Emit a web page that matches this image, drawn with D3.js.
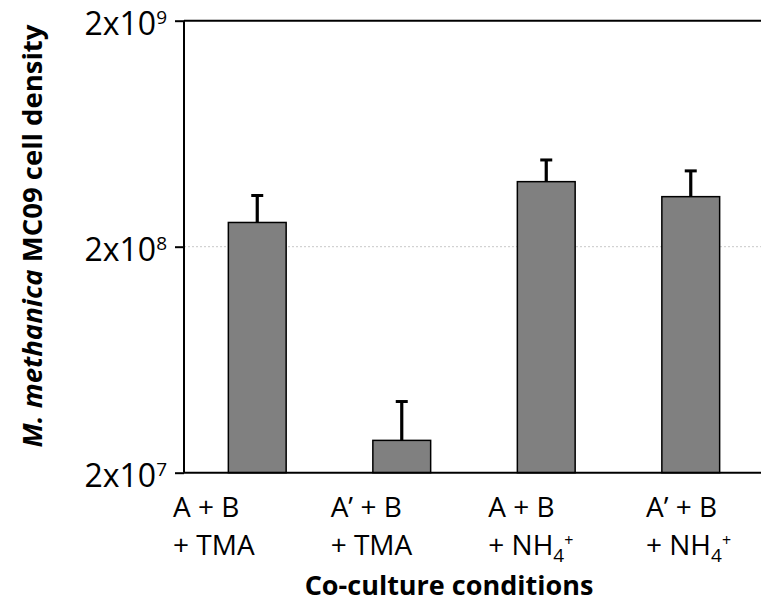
<!DOCTYPE html>
<html>
<head>
<meta charset="utf-8">
<script src="https://cdn.jsdelivr.net/npm/d3@7"></script>
<style>
  body { margin: 0; background: #fff; }
  text { font-family: "Open Sans", sans-serif; fill: #000; }
</style>
</head>
<body>
<svg id="chart" width="761" height="607"></svg>
<script>
// data
var conditions = ["A+B TMA", "A'+B TMA", "A+B NH4", "A'+B NH4"];
var line1 = ["A + B", "A\u2019 + B", "A + B", "A\u2019 + B"];
var line2 = ["TMA", "TMA", "NH4", "NH4"];
var density = [2.56e8, 2.78e7, 3.88e8, 3.33e8];   // bar height
var upper = [3.37e8, 4.13e7, 4.84e8, 4.33e8];     // top of error bar
var yTicks = [2e7, 2e8, 2e9];
var yExp = [7, 8, 9];

var svg = d3.select("#chart");

var x = d3.scaleBand()
  .domain(conditions)
  .range([185, 763])
  .paddingInner(0.6)
  .paddingOuter(0.3);

var y = d3.scaleLog()
  .domain([2e7, 2e9])
  .range([472.7, 20.7]);

// left edge of each category label (labels are spread a bit wider than bars)
var labelX = d3.scaleLinear().domain([0, 3]).range([173, 646]);

// dotted gridlines
svg.append("g")
  .selectAll("line")
  .data([2e8])
  .enter()
  .append("line")
  .attr("x1", 184).attr("x2", 761)
  .attr("y1", function(d){ return y(d); })
  .attr("y2", function(d){ return y(d); })
  .style("stroke", "#c8c8c8")
  .style("stroke-width", 1)
  .style("stroke-dasharray", "2,2");

// top frame line
svg.append("line")
  .attr("x1", 184).attr("x2", 761)
  .attr("y1", y(2e9)).attr("y2", y(2e9))
  .style("stroke", "#000")
  .style("stroke-width", 2);

// bars
svg.append("g")
  .selectAll("rect")
  .data(conditions)
  .enter()
  .append("rect")
  .attr("x", function(d){ return x(d); })
  .attr("width", x.bandwidth())
  .attr("y", function(d, i){ return y(density[i]); })
  .attr("height", function(d, i){ return y(2e7) - y(density[i]); })
  .style("fill", "#808080")
  .style("stroke", "#000")
  .style("stroke-width", 1.5);

// error bars (upper only)
var err = svg.append("g")
  .selectAll("g")
  .data(conditions)
  .enter()
  .append("g");
err.append("line")
  .attr("x1", function(d){ return x(d) + x.bandwidth() / 2; })
  .attr("x2", function(d){ return x(d) + x.bandwidth() / 2; })
  .attr("y1", function(d, i){ return y(density[i]); })
  .attr("y2", function(d, i){ return y(upper[i]); })
  .style("stroke", "#000")
  .style("stroke-width", 3.2);
err.append("line")
  .attr("x1", function(d){ return x(d) + x.bandwidth() / 2 - 6; })
  .attr("x2", function(d){ return x(d) + x.bandwidth() / 2 + 6; })
  .attr("y1", function(d, i){ return y(upper[i]); })
  .attr("y2", function(d, i){ return y(upper[i]); })
  .style("stroke", "#000")
  .style("stroke-width", 3);

// x axis line
var xAxis = svg.append("g")
  .attr("transform", "translate(0," + y(2e7) + ")")
  .call(d3.axisBottom(x).tickSize(0).tickFormat(""));
xAxis.select(".domain").attr("d", "M184,0H761").style("stroke-width", 2);

// y axis
var yAxis = svg.append("g")
  .attr("transform", "translate(184,0)")
  .call(d3.axisLeft(y).tickValues(yTicks).tickSize(9).tickFormat(""));
yAxis.select(".domain").attr("d", "M0," + y(2e9) + "V" + y(2e7)).style("stroke-width", 2);
yAxis.selectAll(".tick line").style("stroke-width", 2);

var yLab = svg.append("g")
  .selectAll("text")
  .data(yTicks)
  .enter()
  .append("text")
  .attr("x", 167)
  .attr("y", function(d){ return y(d) + 14.5; })
  .attr("text-anchor", "end")
  .style("font-size", "32px");
yLab.append("tspan").text("2x10");
yLab.append("tspan")
  .attr("dy", -11)
  .style("font-size", "19px")
  .text(function(d, i){ return yExp[i]; });

// category labels
var cat = svg.append("g")
  .selectAll("g")
  .data(conditions)
  .enter()
  .append("g");
cat.append("text")
  .attr("x", function(d, i){ return labelX(i); })
  .attr("y", 517)
  .style("font-size", "28px")
  .text(function(d, i){ return line1[i]; });
var l2 = cat.append("text")
  .attr("x", function(d, i){ return labelX(i); })
  .attr("y", 555)
  .style("font-size", "28px");
l2.each(function(d, i){
  var t = d3.select(this);
  if (line2[i] === "NH4") {
    t.append("tspan").text("+ NH");
    t.append("tspan").attr("dy", 7).style("font-size", "19px").text("4");
    t.append("tspan").attr("dy", -16).style("font-size", "16px").text("+");
  } else {
    t.append("tspan").text("+ " + line2[i]);
  }
});

// axis titles
svg.append("text")
  .attr("x", 449)
  .attr("y", 595)
  .attr("text-anchor", "middle")
  .style("font-size", "27px")
  .style("font-weight", "bold")
  .text("Co-culture conditions");

var yt = svg.append("text")
  .attr("transform", "translate(42,236) rotate(-90)")
  .attr("text-anchor", "middle")
  .style("font-size", "27.5px")
  .style("font-weight", "bold");
yt.append("tspan").style("font-style", "italic").text("M. methanica");
yt.append("tspan").text(" MC09 cell density");
</script>
</body>
</html>
